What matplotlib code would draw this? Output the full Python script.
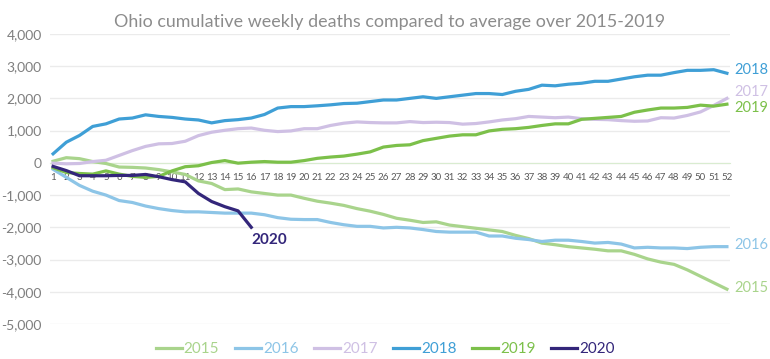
import matplotlib
matplotlib.use("Agg")
import matplotlib.pyplot as plt

plt.rcParams['font.family'] = ['Lato', 'DejaVu Sans']

weeks = list(range(1, 53))
years = ['2015', '2016', '2017', '2018', '2019', '2020']
colors = ['#A9D48C', '#8DC5E7', '#CFC0E4', '#3F9FD6', '#7CC04A', '#33267A']

deaths_2015 = [50, 160, 130, 40, -20, -130, -140, -160, -210, -280,
               -360, -560, -640, -830, -810, -900, -950, -1000, -1000, -1100,
               -1190, -1250, -1320, -1420, -1500, -1600, -1720, -1780, -1850, -1830,
               -1930, -1980, -2030, -2080, -2130, -2250, -2350, -2490, -2540, -2600,
               -2640, -2680, -2730, -2730, -2840, -2980, -3080, -3150, -3320, -3520,
               -3720, -3920]
deaths_2016 = [-200, -450, -700, -880, -1000, -1170, -1230, -1340, -1420, -1480,
               -1520, -1520, -1540, -1560, -1560, -1560, -1610, -1700, -1750, -1760,
               -1760, -1850, -1920, -1970, -1970, -2020, -2000, -2020, -2070, -2130,
               -2150, -2150, -2150, -2270, -2270, -2340, -2380, -2440, -2400, -2400,
               -2440, -2490, -2470, -2520, -2640, -2620, -2640, -2640, -2660, -2620,
               -2600, -2600]
deaths_2017 = [-10, -30, -20, 40, 80, 230, 380, 510, 590, 600,
               670, 845, 950, 1010, 1060, 1080, 1010, 970, 990, 1060,
               1060, 1160, 1230, 1270, 1250, 1240, 1240, 1280, 1250, 1260,
               1250, 1200, 1220, 1270, 1330, 1370, 1440, 1420, 1400, 1420,
               1370, 1350, 1340, 1310, 1290, 1300, 1400, 1390, 1470, 1580,
               1780, 2000]
deaths_2018 = [280, 640, 850, 1130, 1210, 1360, 1390, 1490, 1440, 1410,
               1360, 1330, 1240, 1310, 1340, 1390, 1500, 1700, 1745, 1745,
               1770, 1800, 1840, 1850, 1900, 1950, 1950, 2000, 2050, 2000,
               2050, 2100, 2150, 2150, 2120, 2220, 2280, 2410, 2390, 2440,
               2470, 2530, 2530, 2600, 2670, 2720, 2720, 2800, 2870, 2870,
               2890, 2780]
deaths_2019 = [-150, -300, -330, -350, -250, -350, -420, -450, -420, -250,
               -120, -90, 10, 70, -10, 20, 40, 20, 20, 70,
               140, 180, 210, 270, 340, 490, 540, 560, 690, 760,
               830, 870, 870, 990, 1040, 1060, 1100, 1160, 1210, 1210,
               1350, 1380, 1410, 1440, 1570, 1640, 1700, 1700, 1720, 1790,
               1760, 1820]
deaths_2020 = [-110, -240, -400, -400, -400, -390, -390, -360, -430, -520,
               -590, -950, -1200, -1360, -1490, -2000]

series = [deaths_2015, deaths_2016, deaths_2017, deaths_2018, deaths_2019, deaths_2020]
y_ticks = [4000, 3000, 2000, 1000, 0, -1000, -2000, -3000, -4000, -5000]

fig = plt.figure(figsize=(7.7, 3.59), dpi=100)
ax = fig.add_axes([0.065, 0.0975, 0.883, 0.808])

for year, vals, c in zip(years, series, colors):
    ax.plot(weeks[:len(vals)], vals, color=c, linewidth=2.3, label=year,
            solid_joinstyle='round', zorder=3)

ax.set_xlim(0.77, 52.23)
ax.set_ylim(-5000, 4000)
ax.set_yticks(y_ticks)
ax.set_yticklabels([f'{v:,}' for v in y_ticks], color='#7f7f7f', fontsize=10)
ax.yaxis.grid(True, color='#ebebeb', linewidth=1)
ax.set_axisbelow(True)
ax.tick_params(axis='y', length=0, pad=6)

# x axis sits on the zero line
ax.spines['bottom'].set_position(('data', 0))
ax.spines['bottom'].set_color('#d9ecd0')
ax.spines['bottom'].set_zorder(2)
for s in ['top', 'right', 'left']:
    ax.spines[s].set_visible(False)
ax.set_xticks(weeks)
ax.set_xticklabels([str(w) for w in weeks], fontsize=7, color='#595959')
ax.tick_params(axis='x', length=0, pad=7)

ax.set_title('Ohio cumulative weekly deaths compared to average over 2015-2019',
             color='#8c8c8c', fontsize=12.9, pad=5)

# labels at line ends
end_labels = {'2018': 2880, '2017': 2200, '2019': 1700, '2016': -2560, '2015': -3890}
for year, c in zip(years, colors):
    if year in end_labels:
        ax.text(52.55, end_labels[year], year, color=c, fontsize=10.5,
                va='center', ha='left', clip_on=False)
ax.text(16.0, -2400, '2020', color=colors[5], fontsize=11, fontweight='bold',
        va='center', ha='left')

leg = fig.legend(loc='lower center', ncol=6, frameon=False, bbox_to_anchor=(0.5, -0.03),
                 fontsize=11, handlelength=1.75, handletextpad=0.1, columnspacing=1.0)
for text, c in zip(leg.get_texts(), colors):
    text.set_color(c)

fig.savefig('out.png', dpi=100)
